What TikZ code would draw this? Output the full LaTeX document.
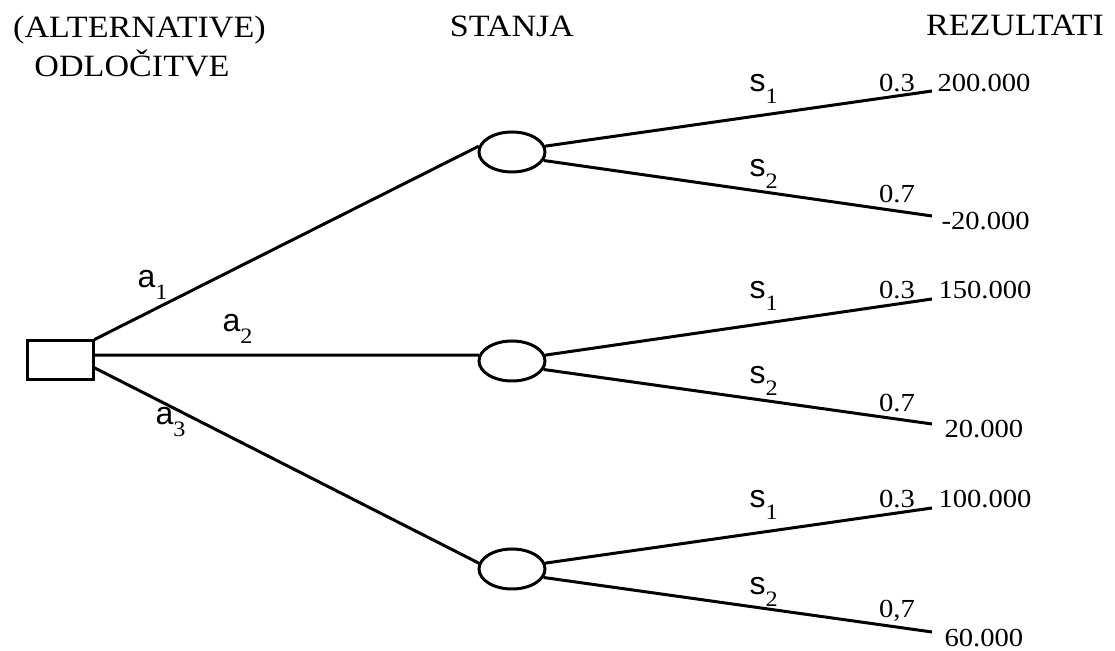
\documentclass[tikz,border=0pt]{standalone}
\usepackage{fontspec}
\setmainfont{Liberation Serif}[FakeStretch=1.1]
\setsansfont{Liberation Sans}
\usepackage{tikz}
\usetikzlibrary{shapes.geometric,positioning}
\tikzstyle{decision} = [rectangle, draw=black, minimum width=33pt, minimum height=19.5pt, inner sep=0pt]
\tikzstyle{state} = [ellipse, draw=black, minimum width=33pt, minimum height=20pt, inner sep=0pt]
\tikzstyle{head} = [font=\fontsize{15.5}{18}\selectfont, anchor=base, inner sep=0pt]
\tikzstyle{val} = [font=\fontsize{13}{15}\selectfont, anchor=base west, inner sep=0pt]
\tikzstyle{prob} = [font=\fontsize{13}{15}\selectfont, anchor=base, inner sep=0pt]
\tikzstyle{lbl} = [font=\sffamily\fontsize{16}{18}\selectfont, anchor=base west, inner sep=0pt]
\newcommand{\subl}[2]{#1\raisebox{-6pt}{\rmfamily\fontsize{11}{13}\selectfont #2}}

\begin{document}
\begin{tikzpicture}[x=0.5pt, y=-0.5pt, line width=1.5pt]
	\useasboundingbox (0,0) rectangle (1115,651);
	%headers
	\node[head] (halt) at (139.5,38) {(ALTERNATIVE)};
	\node[head] (hodl) at (132,77) {ODLOČITVE};
	\node[head] (hsta) at (512,37) {STANJA};
	\node[head] (hrez) at (1015,36) {REZULTATI};
	
	\node[decision] (dec1) at (60,360.5) {};
	\node[state] (state1) at (512,152) {};
	\node[state] (state2) at (512,361) {};
	\node[state] (state3) at (512,569) {};
	
	\coordinate (res11) at (932,91);
	\coordinate (res12) at (932,216);
	\coordinate (res21) at (932,299);
	\coordinate (res22) at (932,424);
	\coordinate (res31) at (932,508);
	\coordinate (res32) at (932,632);
	
	%alternatives
	\draw (dec1.north east) -- (state1.170);
	\draw (dec1.9) -- (state2.170);
	\draw (dec1.-12) -- (state3.170);
	\node[lbl] (a1) at (136,288) {\subl{a}{1}};
	\node[lbl] (a2) at (221,332) {\subl{a}{2}};
	\node[lbl] (a3) at (154,425) {\subl{a}{3}};
	
	%states
	\draw (state1.10) -- (res11);
	\draw (state1.-15) -- (res12);
	\draw (state2.10) -- (res21);
	\draw (state2.-15) -- (res22);
	\draw (state3.10) -- (res31);
	\draw (state3.-15) -- (res32);
	\node[lbl] (s11) at (748,92) {\subl{s}{1}};
	\node[lbl] (s12) at (748,177) {\subl{s}{2}};
	\node[lbl] (s21) at (748,299) {\subl{s}{1}};
	\node[lbl] (s22) at (748,384) {\subl{s}{2}};
	\node[lbl] (s31) at (748,508) {\subl{s}{1}};
	\node[lbl] (s32) at (748,595) {\subl{s}{2}};
	
	%probabilities and results
	\node[prob] (p11) at (897,92) {0.3};
	\node[prob] (p12) at (897,203) {0.7};
	\node[prob] (p21) at (897,299) {0.3};
	\node[prob] (p22) at (897,412) {0.7};
	\node[prob] (p31) at (897,508) {0.3};
	\node[prob] (p32) at (897,618) {0,7};
	\node[val] (v11) at (936,92) {200.000};
	\node[val] (v12) at (940,230) {-20.000};
	\node[val] (v21) at (937,299) {150.000};
	\node[val] (v22) at (943,438) {20.000};
	\node[val] (v31) at (937,508) {100.000};
	\node[val] (v32) at (943,647) {60.000};
\end{tikzpicture}
\end{document}
